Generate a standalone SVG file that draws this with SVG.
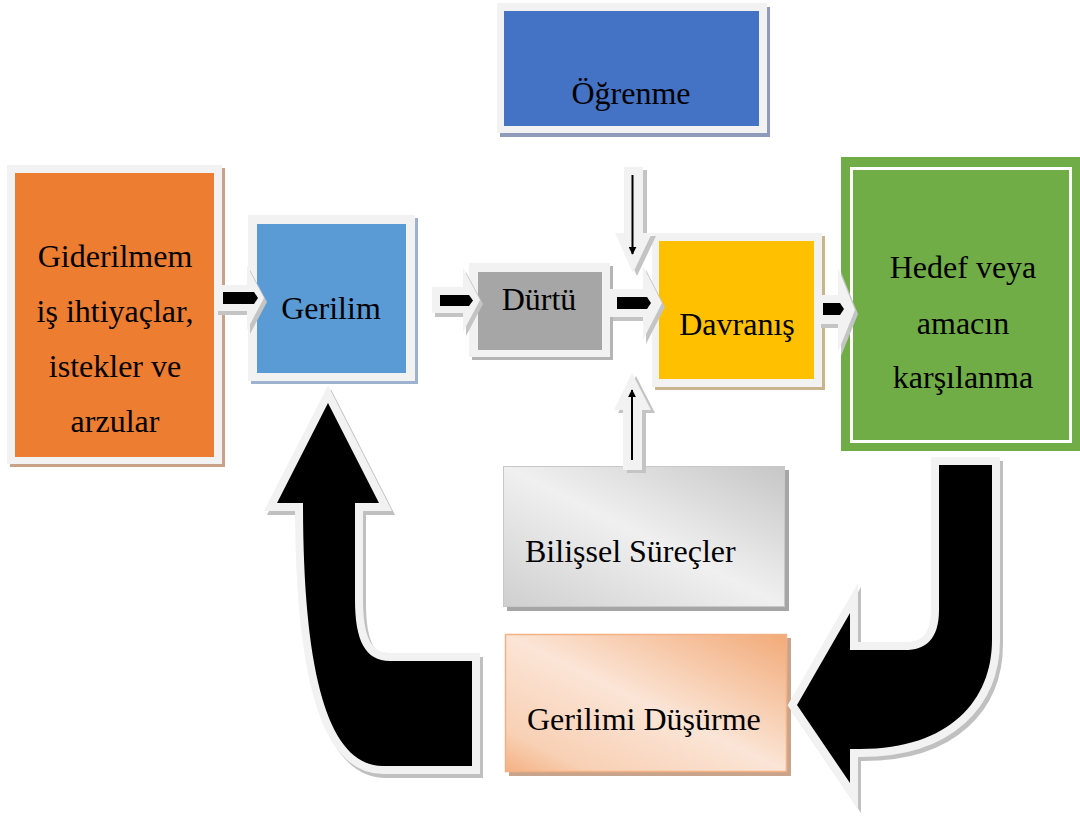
<svg xmlns="http://www.w3.org/2000/svg" width="1080" height="818" viewBox="0 0 1080 818">
<defs>
<style>
.t{font-family:"Liberation Serif","Times New Roman",serif;font-size:32px;fill:#000}
.frame{fill:#f2f2f2}
.ag{fill:#f2f2f2}
.as{fill:#c4c4c4}
.ab{fill:#000}
</style>
<linearGradient id="gGray" x1="1" y1="0" x2="0" y2="1">
<stop offset="0" stop-color="#c6c6c6"/>
<stop offset="0.5" stop-color="#f0f0f0"/>
<stop offset="1" stop-color="#cfcfcf"/>
</linearGradient>
<linearGradient id="gPeach" x1="1" y1="0" x2="0" y2="1">
<stop offset="0" stop-color="#f2aa78"/>
<stop offset="0.5" stop-color="#fbe5d6"/>
<stop offset="0.85" stop-color="#f8d0b4"/>
<stop offset="1" stop-color="#f4b183"/>
</linearGradient>
<marker id="mk" viewBox="0 0 10 10" refX="9" refY="5" markerWidth="4" markerHeight="4" orient="auto">
<path d="M0,0 L10,5 L0,10 Z" fill="#000"/>
</marker>
</defs>
<rect width="1080" height="818" fill="#fff"/>

<g id="node-ogrenme">
<rect x="500" y="7" width="270" height="130" fill="#8e9bba"/>
<rect x="497" y="3" width="270" height="130" class="frame"/>
<rect x="504" y="11" width="255" height="115" fill="#4472c4"/>
<text class="t" x="631" y="104" text-anchor="middle">Öğrenme</text>
</g>

<g id="node-giderilmemis">
<rect x="10" y="168" width="215" height="299" fill="#c9a18a"/>
<rect x="7" y="165" width="215" height="299" class="frame"/>
<rect x="15" y="173" width="199" height="284" fill="#ed7d31"/>
<text class="t" x="115" y="267" text-anchor="middle">Giderilmem</text>
<text class="t" x="115" y="322" text-anchor="middle">iş ihtiyaçlar,</text>
<text class="t" x="115" y="377" text-anchor="middle">istekler ve</text>
<text class="t" x="115" y="432" text-anchor="middle">arzular</text>
</g>

<g id="node-gerilim">
<rect x="251" y="218" width="167" height="166" fill="#9cb2cf"/>
<rect x="248" y="215" width="167" height="166" class="frame"/>
<rect x="257" y="224" width="149" height="149" fill="#5b9bd5"/>
<text class="t" x="331" y="319" text-anchor="middle">Gerilim</text>
</g>

<g id="node-durtu">
<rect x="472" y="266" width="141" height="94" fill="#b4b4b4"/>
<rect x="469" y="263" width="141" height="94" class="frame"/>
<rect x="478" y="272" width="124" height="78" fill="#a6a6a6"/>
<text class="t" x="539" y="310" text-anchor="middle">Dürtü</text>
</g>

<g id="node-davranis">
<rect x="655" y="236" width="170" height="154" fill="#c8b58c"/>
<rect x="652" y="233" width="170" height="154" class="frame"/>
<rect x="659" y="241" width="155" height="138" fill="#ffc000"/>
<text class="t" x="737" y="335" text-anchor="middle">Davranış</text>
</g>

<g id="node-hedef">
<rect x="841" y="157" width="239" height="294" fill="#70ad47"/>
<rect x="851.5" y="168.5" width="219" height="273" fill="none" stroke="#fff" stroke-width="3"/>
<text class="t" x="963" y="278" text-anchor="middle">Hedef veya</text>
<text class="t" x="963" y="334" text-anchor="middle">amacın</text>
<text class="t" x="963" y="388" text-anchor="middle">karşılanma</text>
</g>

<g id="node-bilissel">
<rect x="507" y="470" width="282" height="141" fill="#a6a6a6"/>
<rect x="503.5" y="466.5" width="281" height="140" fill="url(#gGray)" stroke="#c8c8c8" stroke-width="1"/>
<text class="t" x="525" y="562">Bilişsel Süreçler</text>
</g>

<g id="node-dusurme">
<rect x="509" y="638" width="282" height="138" fill="#c9a48c"/>
<rect x="505.5" y="634.5" width="281" height="137" fill="url(#gPeach)" stroke="#f4b183" stroke-width="1.5"/>
<text class="t" x="527" y="730">Gerilimi Düşürme</text>
</g>

<g id="connectors">
<!-- arrow 1: Giderilmemis -> Gerilim -->
<g transform="translate(3,4)"><path class="as" d="M215,285 L247,285 L247,266 L264,298 L247,330 L247,311 L215,311 Z"/></g>
<path class="ag" d="M215,285 L247,285 L247,266 L264,298 L247,330 L247,311 L215,311 Z"/>
<path class="ab" d="M223,292 L254,292 L258,298 L254,304 L223,304 Z"/>

<!-- arrow 2: Gerilim -> Durtu -->
<g transform="translate(3,4)"><path class="as" d="M432,287 L463,287 L463,268 L480,300 L463,332 L463,313 L432,313 Z"/></g>
<path class="ag" d="M432,287 L463,287 L463,268 L480,300 L463,332 L463,313 L432,313 Z"/>
<path class="ab" d="M440,295 L469,295 L473,300.5 L469,306 L440,306 Z"/>

<!-- arrow 3: Durtu -> Davranis -->
<g transform="translate(3,4)"><path class="as" d="M610,289 L643,289 L643,266 L662,303 L643,340 L643,317 L610,317 Z"/></g>
<path class="ag" d="M610,289 L643,289 L643,266 L662,303 L643,340 L643,317 L610,317 Z"/>
<path class="ab" d="M617,297 L647,297 L651,303 L647,309 L617,309 Z"/>

<!-- arrow 4: Davranis -> Hedef -->
<g transform="translate(3,4)"><path class="as" d="M818,295 L838,295 L838,268 L855,310 L838,352 L838,324 L818,324 Z"/></g>
<path class="ag" d="M818,295 L838,295 L838,268 L855,310 L838,352 L838,324 L818,324 Z"/>
<path class="ab" d="M823,303 L840,303 L844,309 L840,315 L823,315 Z"/>

<!-- down arrow: Ogrenme -> Davranis -->
<g transform="translate(4,3)"><path class="as" d="M624,167 L643,167 L643,233 L652,233 L633,273 L615,233 L624,233 Z"/></g>
<path class="ag" d="M624,167 L643,167 L643,233 L652,233 L633,273 L615,233 L624,233 Z"/>
<line x1="632.5" y1="175" x2="632.5" y2="254" stroke="#000" stroke-width="2" marker-end="url(#mk)"/>

<!-- up arrow: Bilissel -> Davranis -->
<g transform="translate(4,3)"><path class="as" d="M623,470 L642,470 L642,410 L651,410 L632,373 L614,410 L623,410 Z"/></g>
<path class="ag" d="M623,470 L642,470 L642,410 L651,410 L632,373 L614,410 L623,410 Z"/>
<line x1="632" y1="460" x2="632" y2="390" stroke="#000" stroke-width="2" marker-end="url(#mk)"/>

<!-- big arrow: Hedef -> Gerilimi Dusurme -->
<g transform="translate(3,4)"><path fill="#c0c0c0" stroke="#c0c0c0" stroke-width="16" stroke-linejoin="miter" d="M939,465 L992,465 L992,640 C992,700 950,749 860,749 L850,749 L850,783 L797,705 L850,613 L850,650 L905,650 C925,650 939,640 939,610 Z"/></g>
<path fill="#000" stroke="#f2f2f2" stroke-width="16" stroke-linejoin="miter" d="M939,465 L992,465 L992,640 C992,700 950,749 860,749 L850,749 L850,783 L797,705 L850,613 L850,650 L905,650 C925,650 939,640 939,610 Z"/>
<path fill="#000" d="M939,465 L992,465 L992,640 C992,700 950,749 860,749 L850,749 L850,783 L797,705 L850,613 L850,650 L905,650 C925,650 939,640 939,610 Z"/>

<!-- big arrow: Gerilimi Dusurme -> Gerilim -->
<g transform="translate(3,4)"><path fill="#c0c0c0" stroke="#c0c0c0" stroke-width="16" stroke-linejoin="miter" d="M328,403 L379,503 L355,503 L355,600 C355,640 365,661 390,661 L472,661 L472,766 L383,766 C330,766 303,680 303,503 L277,503 Z"/></g>
<path fill="#000" stroke="#f2f2f2" stroke-width="16" stroke-linejoin="miter" d="M328,403 L379,503 L355,503 L355,600 C355,640 365,661 390,661 L472,661 L472,766 L383,766 C330,766 303,680 303,503 L277,503 Z"/>
<path fill="#000" d="M328,403 L379,503 L355,503 L355,600 C355,640 365,661 390,661 L472,661 L472,766 L383,766 C330,766 303,680 303,503 L277,503 Z"/>
</g>
</svg>
